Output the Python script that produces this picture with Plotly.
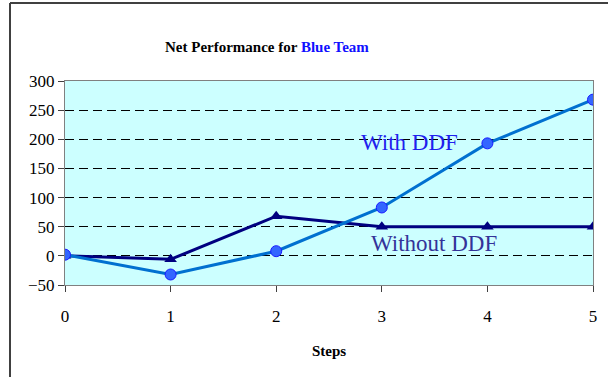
import plotly.graph_objects as go

steps = [0, 1, 2, 3, 4, 5]
with_ddf = [2, -32, 8, 83, 193, 268]
without_ddf = [0, -6, 68, 50, 50, 50]
y_ticks = [-50, 0, 50, 100, 150, 200, 250, 300]

SERIF = "Liberation Serif, Times New Roman, serif"

fig = go.Figure()
fig.add_trace(go.Scatter(
    x=steps, y=without_ddf, name="Without DDF", mode="lines+markers",
    line=dict(color="#000080", width=3),
    marker=dict(symbol="triangle-up", size=11, color="#000080"),
))
fig.add_trace(go.Scatter(
    x=steps, y=with_ddf, name="With DDF", mode="lines+markers",
    line=dict(color="#0070d0", width=3),
    marker=dict(symbol="circle", size=11, color="#3366ff",
                line=dict(color="#1a1aff", width=1)),
))

fig.update_layout(
    width=608, height=377,
    margin=dict(l=65, r=15, t=81, b=92),
    paper_bgcolor="white", plot_bgcolor="#ccffff",
    showlegend=False,
    font=dict(family=SERIF, size=17, color="black"),
    xaxis=dict(
        range=[0, 5], tickvals=steps, ticks="outside", ticklen=6,
        tickcolor="#404040", showgrid=False, zeroline=False,
        showline=True, linecolor="#808080", mirror=True, linewidth=1,
        tickfont=dict(family=SERIF, size=17), ticklabelstandoff=10,
        title=dict(text="<b>Steps</b>", font=dict(family=SERIF, size=15), standoff=20),
    ),
    yaxis=dict(
        range=[-50, 300], tickvals=y_ticks, ticks="outside", ticklen=6,
        tickcolor="#404040", showgrid=True, gridcolor="black", gridwidth=1,
        griddash="9px,5px", zeroline=False,
        showline=True, linecolor="#808080", mirror=True, linewidth=1,
        tickfont=dict(family=SERIF, size=17),
    ),
    annotations=[
        dict(text="<b>Net Performance for <span style='color:#1010ff'>Blue Team</span></b>",
             xref="paper", yref="paper", x=(267 - 65) / 528, y=(285 - 47) / 204,
             xanchor="center", yanchor="middle",
             showarrow=False, font=dict(family=SERIF, size=15, color="black")),
        dict(text="With DDF", xref="x", yref="y", x=3.26, y=194,
             showarrow=False, font=dict(family=SERIF, size=23, color="#2020ee")),
        dict(text="Without DDF", xref="x", yref="y", x=3.49, y=22,
             showarrow=False, font=dict(family=SERIF, size=23, color="#333399")),
    ],
    shapes=[
        dict(type="line", xref="paper", yref="paper",
             x0=(10 - 65) / 528, x1=(610 - 65) / 528, y0=(285 - 3) / 204, y1=(285 - 3) / 204,
             line=dict(color="#404040", width=2)),
        dict(type="line", xref="paper", yref="paper",
             x0=(10 - 65) / 528, x1=(10 - 65) / 528, y0=(285 - 3) / 204, y1=(285 - 380) / 204,
             line=dict(color="#404040", width=2)),
    ],
)

fig.write_html("out.html", config={"displayModeBar": False},
               post_script="document.body.style.margin='0';document.body.style.overflow='hidden';")
